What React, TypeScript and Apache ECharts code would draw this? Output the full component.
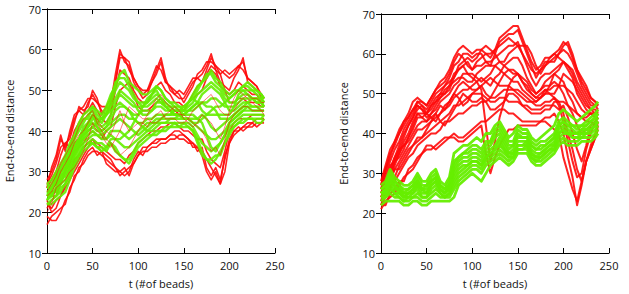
import React, { useEffect, useRef } from "react";
import * as echarts from "echarts";

// sample positions along the chain (t, # of beads)
const tValues = [0, 5, 10, 15, 20, 25, 30, 35, 40, 45, 50, 55, 60, 65, 70, 75, 80, 85, 90, 95, 100, 105, 110, 115, 120, 125, 130, 135, 140, 145, 150, 155, 160, 165, 170, 175, 180, 185, 190, 195, 200, 205, 210, 215, 220, 225, 230, 235, 238];

const xTicks = [0, 50, 100, 150, 200, 250];
const yTicks = [10, 20, 30, 40, 50, 60, 70];

// Left panel, red trajectories
const leftRed = [
  [28, 30, 33, 38, 36, 39, 43, 45, 44, 47, 49, 47, 45, 44, 47, 54, 60, 57, 56, 52, 50, 48, 49, 52, 55, 58, 53, 50, 49, 48, 48, 50, 52, 53, 54, 56, 59, 55, 52, 51, 50, 53, 55, 58, 52, 51, 50, 49, 48],
  [27, 29, 32, 36, 37, 38, 42, 46, 45, 46, 50, 48, 44, 46, 45, 52, 58, 58, 57, 53, 51, 49, 50, 53, 56, 55, 52, 51, 50, 49, 47, 49, 51, 54, 55, 57, 57, 56, 55, 54, 53, 54, 56, 55, 53, 52, 51, 48, 47],
  [19, 18, 18, 20, 23, 25, 29, 30, 33, 35, 36, 34, 35, 32, 31, 30, 30, 29, 30, 33, 35, 34, 36, 37, 37, 38, 38, 39, 39, 38, 38, 37, 37, 35, 36, 31, 29, 31, 28, 33, 38, 40, 41, 40, 41, 41, 42, 42, 43],
  [17, 19, 20, 21, 22, 26, 28, 31, 32, 34, 35, 35, 34, 33, 32, 31, 29, 30, 31, 32, 34, 35, 35, 36, 36, 37, 37, 38, 38, 39, 39, 38, 36, 36, 35, 33, 31, 29, 27, 34, 37, 40, 40, 41, 42, 42, 41, 42, 42],
  [26, 28, 30, 34, 37, 36, 40, 42, 44, 45, 47, 45, 43, 42, 44, 50, 55, 54, 53, 50, 48, 47, 47, 49, 51, 52, 50, 49, 47, 47, 46, 47, 48, 49, 50, 53, 55, 54, 51, 50, 49, 50, 52, 51, 50, 49, 49, 47, 46],
  [22, 21, 23, 24, 27, 29, 33, 34, 36, 37, 38, 37, 36, 35, 34, 33, 33, 32, 34, 35, 37, 38, 39, 40, 40, 41, 41, 42, 42, 41, 40, 40, 39, 38, 38, 35, 33, 32, 31, 35, 40, 42, 43, 43, 43, 44, 44, 44, 44],
  [21, 23, 24, 27, 30, 32, 35, 36, 37, 39, 40, 39, 38, 40, 41, 46, 50, 51, 52, 49, 46, 45, 45, 46, 47, 48, 46, 45, 44, 45, 45, 47, 49, 51, 52, 54, 56, 55, 54, 50, 47, 47, 48, 48, 47, 47, 47, 46, 46],
  [23, 20, 21, 24, 26, 28, 30, 32, 34, 36, 38, 36, 35, 34, 33, 31, 30, 31, 29, 32, 34, 36, 36, 37, 38, 38, 38, 39, 40, 40, 39, 38, 37, 36, 34, 30, 28, 30, 27, 30, 37, 39, 40, 41, 41, 42, 43, 43, 43],
  [26, 31, 34, 39, 35, 40, 44, 45, 46, 48, 48, 47, 46, 46, 48, 52, 59, 58, 55, 53, 51, 50, 50, 52, 54, 57, 52, 51, 49, 50, 49, 51, 53, 53, 52, 55, 58, 56, 54, 55, 54, 55, 56, 57, 53, 52, 51, 49, 48],
];

// Left panel, red trajectories running through the middle of the green band
const leftRedMid = [
  [25, 27, 29, 32, 34, 36, 38, 41, 43, 44, 45, 42, 40, 38, 37, 35, 34, 35, 36, 38, 40, 42, 44, 46, 48, 49, 47, 46, 45, 44, 44, 43, 42, 41, 40, 38, 35, 36, 34, 38, 42, 44, 45, 46, 46, 45, 45, 45, 45],
  [24, 25, 27, 30, 32, 34, 37, 39, 40, 42, 44, 43, 41, 40, 39, 42, 45, 42, 40, 41, 42, 42, 41, 43, 44, 45, 43, 43, 43, 42, 42, 43, 45, 46, 47, 48, 49, 47, 45, 44, 44, 45, 47, 48, 49, 48, 48, 47, 47],
  [20, 22, 26, 27, 28, 30, 31, 33, 35, 38, 42, 40, 39, 37, 36, 38, 40, 43, 46, 45, 44, 43, 43, 42, 42, 43, 44, 45, 46, 45, 43, 42, 41, 42, 44, 43, 42, 40, 38, 41, 45, 48, 50, 49, 48, 47, 46, 45, 44],
];

// Left panel, green trajectories
const leftGreen = [
  [27, 28, 30, 32, 34, 37, 39, 42, 44, 45, 46, 45, 44, 46, 49, 51, 54, 55, 52, 51, 50, 49, 49, 50, 51, 50, 48, 47, 47, 46, 46, 47, 49, 51, 52, 53, 55, 53, 52, 50, 49, 50, 50, 51, 51, 50, 50, 49, 48],
  [22, 22, 23, 24, 25, 28, 31, 33, 35, 36, 37, 36, 36, 35, 37, 35, 34, 33, 33, 35, 37, 38, 39, 39, 40, 40, 41, 41, 42, 41, 41, 41, 40, 37, 34, 33, 32, 33, 35, 37, 40, 41, 42, 42, 43, 43, 43, 43, 44],
  [25, 26, 27, 29, 30, 33, 35, 37, 40, 41, 42, 41, 40, 41, 43, 45, 46, 46, 45, 44, 44, 45, 45, 45, 46, 46, 45, 45, 44, 44, 44, 45, 45, 46, 47, 47, 48, 48, 47, 46, 46, 46, 47, 48, 48, 48, 47, 47, 47],
  [24, 24, 26, 28, 29, 31, 34, 36, 38, 39, 40, 39, 38, 38, 40, 40, 40, 39, 38, 39, 40, 41, 42, 42, 43, 43, 43, 43, 43, 43, 43, 43, 42, 41, 40, 39, 38, 38, 39, 40, 42, 43, 44, 45, 45, 45, 45, 45, 45],
  [26, 27, 29, 31, 33, 35, 38, 40, 42, 44, 45, 43, 42, 44, 47, 50, 52, 51, 50, 48, 47, 46, 46, 47, 48, 47, 46, 45, 45, 45, 45, 46, 47, 49, 50, 51, 52, 51, 50, 48, 47, 47, 48, 49, 49, 48, 48, 47, 46],
  [23, 24, 24, 26, 27, 30, 32, 34, 36, 37, 38, 37, 37, 36, 38, 38, 37, 36, 36, 37, 38, 39, 40, 40, 41, 42, 42, 42, 42, 42, 42, 42, 41, 39, 37, 36, 35, 36, 37, 39, 41, 42, 43, 44, 44, 44, 44, 44, 44],
  [25, 25, 28, 30, 31, 34, 36, 38, 41, 42, 44, 42, 41, 42, 44, 47, 49, 48, 47, 46, 46, 46, 47, 48, 49, 48, 47, 46, 46, 45, 45, 45, 46, 47, 49, 50, 51, 50, 49, 47, 45, 45, 46, 47, 47, 46, 46, 46, 46],
  [23, 25, 25, 27, 28, 31, 33, 35, 37, 38, 39, 39, 39, 40, 41, 42, 43, 42, 41, 40, 39, 40, 41, 42, 42, 43, 44, 44, 44, 44, 43, 43, 43, 43, 44, 43, 41, 40, 41, 42, 43, 44, 45, 46, 46, 45, 45, 45, 45],
  [26, 26, 28, 30, 32, 35, 37, 38, 39, 41, 43, 43, 43, 44, 46, 48, 50, 49, 48, 47, 45, 44, 44, 45, 47, 47, 46, 46, 45, 45, 46, 47, 48, 47, 45, 44, 44, 44, 44, 44, 44, 46, 49, 50, 50, 50, 49, 48, 47],
  [24, 26, 27, 28, 30, 32, 34, 36, 39, 40, 41, 40, 40, 41, 42, 43, 44, 44, 43, 43, 42, 42, 43, 43, 44, 44, 44, 44, 45, 45, 44, 44, 44, 43, 42, 39, 36, 35, 37, 39, 42, 43, 44, 45, 46, 46, 46, 45, 45],
  [25, 24, 26, 29, 31, 34, 36, 38, 40, 42, 44, 41, 39, 38, 39, 38, 38, 39, 40, 42, 44, 46, 48, 49, 50, 48, 46, 45, 44, 44, 43, 43, 42, 42, 43, 44, 45, 46, 46, 47, 48, 49, 50, 50, 49, 48, 47, 47, 46],
  [24, 25, 25, 27, 30, 33, 35, 37, 38, 40, 41, 42, 43, 44, 45, 46, 47, 46, 45, 43, 42, 41, 40, 41, 42, 42, 42, 43, 43, 44, 44, 45, 46, 47, 47, 46, 46, 45, 43, 43, 43, 44, 45, 46, 47, 48, 48, 48, 47],
  [27, 26, 29, 31, 33, 36, 38, 41, 43, 43, 46, 44, 43, 45, 48, 52, 53, 53, 51, 49, 47, 47, 47, 49, 51, 50, 48, 47, 46, 46, 45, 47, 48, 50, 52, 54, 54, 52, 51, 49, 48, 49, 50, 51, 52, 51, 50, 49, 48],
  [22, 23, 24, 25, 27, 29, 32, 34, 36, 37, 37, 36, 35, 36, 37, 36, 34, 33, 32, 34, 36, 37, 38, 39, 39, 40, 40, 41, 41, 41, 42, 41, 40, 38, 35, 33, 33, 34, 34, 37, 39, 41, 42, 43, 43, 43, 42, 42, 43],
];

// Right panel, red trajectories
const rightRed = [
  [28, 32, 36, 38, 41, 43, 45, 48, 49, 48, 47, 49, 51, 53, 54, 56, 59, 61, 62, 61, 60, 61, 61, 60, 59, 61, 64, 65, 66, 67, 67, 64, 61, 58, 56, 57, 59, 59, 60, 61, 63, 62, 59, 56, 53, 51, 49, 48, 47],
  [26, 30, 33, 36, 38, 41, 43, 45, 48, 47, 46, 48, 50, 51, 52, 54, 57, 58, 60, 60, 59, 60, 60, 58, 57, 60, 63, 64, 65, 65, 66, 63, 60, 57, 54, 56, 58, 58, 58, 60, 61, 60, 58, 55, 52, 50, 48, 47, 46],
  [22, 22, 25, 26, 28, 28, 31, 32, 34, 35, 36, 36, 37, 38, 39, 39, 40, 39, 39, 40, 41, 42, 43, 43, 44, 45, 46, 46, 45, 45, 44, 43, 43, 43, 43, 43, 44, 44, 45, 43, 40, 34, 29, 22, 27, 33, 36, 39, 42],
  [21, 23, 24, 25, 27, 29, 30, 31, 33, 35, 37, 37, 36, 37, 38, 39, 39, 38, 38, 39, 40, 41, 42, 35, 30, 34, 37, 39, 41, 41, 42, 42, 42, 42, 42, 43, 43, 42, 41, 40, 34, 30, 26, 23, 28, 33, 36, 39, 41],
  [25, 28, 30, 33, 35, 38, 40, 43, 45, 45, 45, 47, 48, 49, 50, 52, 55, 56, 57, 58, 56, 57, 57, 58, 58, 59, 60, 61, 62, 62, 63, 60, 57, 54, 52, 54, 55, 55, 56, 57, 58, 57, 55, 52, 50, 48, 46, 46, 45],
  [24, 26, 28, 31, 33, 35, 37, 39, 41, 41, 42, 43, 44, 45, 46, 47, 49, 50, 51, 51, 52, 53, 54, 53, 52, 54, 55, 57, 58, 59, 59, 57, 54, 52, 50, 51, 52, 52, 53, 52, 50, 47, 45, 42, 40, 41, 42, 43, 44],
  [23, 25, 27, 28, 30, 32, 34, 35, 37, 38, 39, 40, 40, 41, 43, 43, 44, 45, 45, 46, 47, 47, 48, 48, 49, 49, 50, 51, 51, 51, 51, 50, 49, 48, 47, 47, 48, 48, 49, 48, 45, 40, 36, 31, 28, 33, 37, 40, 43],
  [27, 31, 34, 38, 40, 42, 44, 46, 47, 46, 44, 45, 46, 48, 49, 50, 52, 53, 55, 55, 55, 54, 53, 54, 55, 57, 58, 57, 56, 55, 55, 53, 52, 50, 49, 49, 50, 50, 50, 52, 55, 54, 53, 51, 49, 47, 46, 45, 45],
  [24, 26, 29, 31, 31, 33, 35, 37, 39, 39, 40, 41, 42, 43, 44, 45, 47, 47, 48, 49, 50, 50, 50, 49, 48, 48, 49, 49, 48, 48, 48, 47, 47, 46, 46, 46, 47, 47, 47, 46, 47, 44, 40, 36, 33, 37, 42, 43, 44],
  [25, 28, 31, 34, 36, 37, 38, 40, 42, 43, 43, 45, 47, 49, 51, 52, 53, 54, 54, 53, 53, 55, 56, 57, 57, 57, 56, 55, 54, 53, 53, 51, 50, 49, 48, 49, 51, 51, 52, 52, 52, 51, 50, 48, 46, 45, 45, 44, 44],
  [26, 29, 32, 33, 34, 36, 39, 41, 44, 44, 45, 44, 43, 45, 47, 48, 50, 52, 53, 52, 51, 51, 52, 53, 54, 53, 52, 52, 52, 51, 50, 49, 48, 48, 48, 49, 50, 52, 55, 56, 58, 57, 56, 53, 51, 49, 47, 47, 47],
  [22, 24, 26, 29, 32, 34, 36, 37, 38, 39, 41, 43, 45, 43, 42, 44, 46, 48, 50, 49, 48, 48, 49, 48, 46, 46, 47, 48, 50, 50, 49, 47, 46, 45, 45, 45, 46, 46, 48, 48, 48, 47, 46, 45, 44, 43, 43, 42, 42],
  [23, 27, 31, 34, 37, 40, 42, 44, 47, 46, 45, 47, 49, 50, 52, 53, 54, 56, 57, 55, 54, 53, 51, 42, 33, 38, 44, 48, 52, 54, 55, 53, 51, 50, 49, 50, 51, 50, 49, 47, 43, 38, 33, 29, 30, 36, 40, 43, 44],
  [27, 31, 35, 37, 40, 43, 44, 46, 48, 48, 47, 49, 51, 52, 53, 55, 58, 60, 59, 57, 56, 58, 59, 60, 60, 61, 62, 63, 64, 63, 62, 60, 58, 56, 55, 56, 57, 58, 59, 60, 62, 63, 60, 56, 54, 52, 49, 48, 47],
  [24, 27, 29, 33, 36, 39, 42, 44, 46, 47, 45, 46, 48, 50, 50, 51, 54, 57, 58, 59, 58, 59, 61, 62, 61, 60, 58, 58, 60, 61, 62, 62, 62, 60, 57, 55, 57, 59, 60, 59, 58, 56, 54, 50, 48, 46, 45, 45, 46],
  [22, 25, 29, 32, 35, 37, 39, 42, 45, 44, 43, 44, 45, 47, 46, 48, 50, 49, 47, 48, 50, 51, 52, 50, 49, 51, 53, 55, 56, 56, 55, 54, 53, 51, 50, 51, 53, 54, 55, 54, 53, 50, 48, 45, 44, 44, 45, 45, 45],
];

// Right panel, green trajectories
const rightGreen = [
  [27, 28, 31, 29, 28, 27, 27, 28, 30, 28, 28, 30, 31, 28, 27, 29, 35, 36, 37, 37, 38, 39, 38, 40, 40, 42, 43, 41, 39, 40, 42, 41, 41, 39, 38, 39, 40, 41, 42, 45, 46, 45, 44, 43, 44, 45, 46, 47, 48],
  [22, 23, 23, 23, 23, 22, 22, 23, 23, 22, 22, 23, 23, 23, 23, 23, 24, 27, 28, 29, 30, 29, 28, 30, 32, 33, 34, 33, 32, 33, 35, 35, 35, 33, 32, 32, 33, 34, 35, 37, 38, 37, 37, 37, 38, 38, 38, 39, 40],
  [25, 26, 29, 27, 26, 25, 25, 26, 28, 26, 26, 28, 29, 26, 25, 27, 31, 33, 34, 34, 35, 35, 34, 36, 37, 39, 40, 38, 36, 37, 39, 39, 39, 37, 36, 36, 37, 38, 39, 42, 43, 42, 41, 40, 41, 42, 43, 44, 45],
  [24, 25, 27, 25, 25, 24, 24, 25, 26, 24, 24, 26, 27, 25, 24, 25, 28, 30, 31, 32, 33, 33, 32, 34, 35, 36, 37, 36, 34, 35, 37, 37, 37, 35, 34, 34, 35, 36, 37, 40, 41, 40, 39, 39, 40, 40, 41, 42, 43],
  [26, 27, 30, 28, 27, 26, 26, 27, 29, 27, 27, 29, 30, 27, 26, 28, 33, 34, 35, 36, 37, 37, 36, 38, 38, 41, 42, 40, 38, 38, 41, 40, 40, 38, 37, 38, 38, 39, 40, 43, 44, 43, 42, 42, 42, 43, 44, 45, 46],
  [23, 24, 25, 24, 24, 23, 23, 24, 24, 23, 23, 24, 25, 24, 24, 24, 26, 28, 29, 30, 31, 31, 30, 32, 33, 34, 35, 34, 33, 34, 36, 36, 36, 34, 33, 33, 34, 35, 36, 38, 39, 38, 38, 38, 39, 39, 39, 40, 41],
  [25, 25, 28, 26, 26, 24, 25, 25, 27, 25, 25, 27, 28, 26, 25, 26, 30, 32, 33, 33, 34, 34, 33, 35, 36, 37, 39, 37, 35, 36, 38, 38, 38, 36, 35, 35, 36, 37, 38, 41, 42, 41, 40, 40, 40, 41, 42, 43, 44],
  [26, 27, 29, 28, 27, 25, 26, 27, 28, 26, 27, 28, 29, 27, 26, 27, 32, 34, 35, 35, 36, 36, 35, 37, 38, 40, 41, 39, 37, 37, 40, 39, 39, 37, 36, 37, 37, 38, 39, 42, 43, 42, 42, 41, 42, 42, 43, 44, 45],
  [24, 24, 26, 25, 24, 23, 24, 24, 25, 24, 24, 25, 26, 25, 24, 25, 27, 29, 30, 31, 32, 32, 31, 33, 34, 35, 36, 35, 34, 34, 36, 36, 37, 34, 33, 34, 35, 36, 36, 39, 40, 40, 39, 39, 39, 40, 40, 41, 42],
  [25, 26, 28, 27, 25, 24, 25, 26, 27, 26, 25, 27, 28, 26, 25, 26, 29, 31, 32, 32, 33, 33, 32, 34, 35, 36, 38, 36, 35, 35, 37, 37, 38, 35, 34, 35, 36, 37, 37, 40, 41, 40, 40, 40, 41, 41, 41, 42, 43],
];

const RED = "#ff0a0a";
const GREEN = "#66ee00";
const FONT = "Open Sans";

function mkLine(vals: number[], color: string, axisIdx: number, width: number, opacity = 0.9) {
  return {
    type: "line",
    xAxisIndex: axisIdx,
    yAxisIndex: axisIdx,
    data: vals.map((v, i) => [tValues[i], v]),
    showSymbol: false,
    silent: true,
    lineStyle: { color, width, opacity, join: "round" },
  };
}

function axesFor(gridIndex: number) {
  const lbl = { color: "#111", fontFamily: FONT, fontSize: 11 };
  const line = { lineStyle: { color: "#000", width: 1 } };
  const tick = { inside: true, length: 5, lineStyle: { color: "#000" } };
  const x = [
    {
      type: "value", gridIndex, min: xTicks[0], max: xTicks[xTicks.length - 1], interval: 50, position: "bottom",
      axisLine: line, axisTick: tick, splitLine: { show: false },
      axisLabel: { ...lbl, margin: 7 },
      name: "t (#of beads)", nameLocation: "middle", nameGap: 25,
      nameTextStyle: { ...lbl },
    },
    {
      type: "value", gridIndex, min: xTicks[0], max: xTicks[xTicks.length - 1], interval: 50, position: "top",
      axisLine: line, axisTick: tick, splitLine: { show: false }, axisLabel: { show: false },
    },
  ];
  const y = [
    {
      type: "value", gridIndex, min: yTicks[0], max: yTicks[yTicks.length - 1], interval: 10, position: "left",
      axisLine: line, axisTick: tick, splitLine: { show: false },
      axisLabel: { ...lbl, margin: 6 },
      name: "End-to-end distance", nameLocation: "middle", nameGap: 32,
      nameTextStyle: { ...lbl },
    },
    {
      type: "value", gridIndex, min: yTicks[0], max: yTicks[yTicks.length - 1], interval: 10, position: "right",
      axisLine: line, axisTick: tick, splitLine: { show: false }, axisLabel: { show: false },
    },
  ];
  return { x, y };
}

export default function App() {
  const ref = useRef<HTMLDivElement>(null);
  useEffect(() => {
    document.body.style.margin = "0";
    const chart = echarts.init(ref.current!, undefined, { renderer: "svg" });
    const a0 = axesFor(0);
    const a1 = axesFor(1);
    chart.setOption({
      animation: false,
      backgroundColor: "#fff",
      grid: [
        { left: 47, top: 9, width: 228, height: 246 },
        { left: 381, top: 14, width: 228, height: 244 },
      ],
      xAxis: [...a0.x, ...a1.x],
      yAxis: [...a0.y, ...a1.y],
      series: [
        ...leftRed.map((v) => mkLine(v, RED, 0, 1.6)),
        ...leftGreen.map((v) => mkLine(v, GREEN, 0, 2.4)),
        ...leftRedMid.map((v) => mkLine(v, RED, 0, 1, 0.55)),
        ...rightRed.map((v) => mkLine(v, RED, 2, 2)),
        ...rightGreen.map((v) => mkLine(v, GREEN, 2, 2.8, 0.95)),
      ],
    });
    return () => chart.dispose();
  }, []);
  return <div ref={ref} style={{ width: 629, height: 294 }} />;
}
